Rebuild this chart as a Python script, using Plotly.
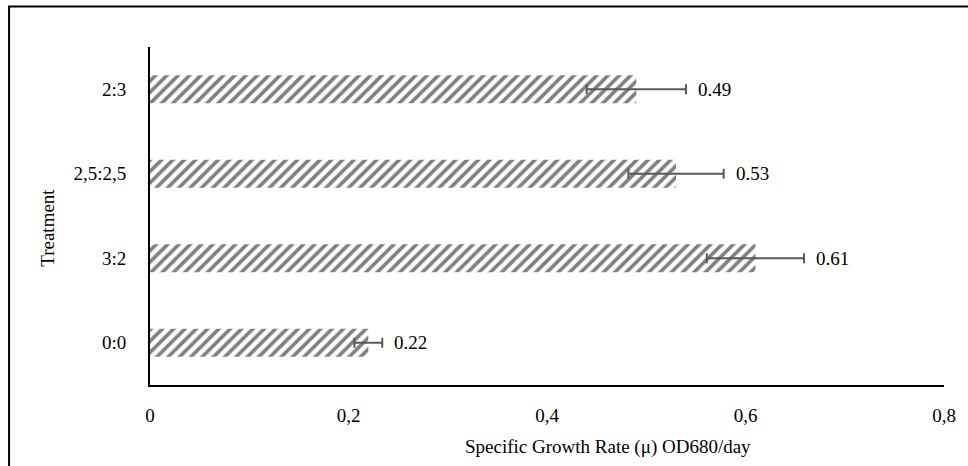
import plotly.graph_objects as go

treatments = ["0:0", "3:2", "2,5:2,5", "2:3"]
growth_rate = [0.22, 0.61, 0.53, 0.49]
error_sd = [0.014, 0.049, 0.048, 0.05]
value_labels = ["0.22", "0.61", "0.53", "0.49"]
x_ticks = [0, 0.2, 0.4, 0.6, 0.8]
x_tick_text = ["0", "0,2", "0,4", "0,6", "0,8"]

FONT = "Liberation Serif"
FS = 19

fig = go.Figure()
fig.add_trace(go.Bar(
    x=growth_rate, y=treatments, orientation="h",
    marker=dict(color="white", line=dict(width=0),
                pattern=dict(shape="/", fgcolor="black", bgcolor="white", size=8, solidity=0.45)),
    error_x=dict(type="data", array=error_sd, visible=True, color="#595959", thickness=2, width=5),
    showlegend=False, hoverinfo="skip",
))

for t, v, e, lab in zip(treatments, growth_rate, error_sd, value_labels):
    fig.add_annotation(x=v + e, y=t, text=lab, showarrow=False, xanchor="left", yanchor="middle",
                       xshift=10, font=dict(family=FONT, size=FS, color="black"))

fig.add_annotation(xref="paper", yref="paper", x=(611 - 150) / 800, y=(385 - 447) / 338,
                   xanchor="center", yanchor="middle",
                   text="Specific Growth Rate (μ) OD680/day", showarrow=False,
                   font=dict(family=FONT, size=FS, color="black"))
fig.add_annotation(xref="paper", yref="paper", x=(46 - 150) / 800, y=(385 - 228) / 338,
                   xanchor="center", yanchor="middle",
                   text="Treatment", showarrow=False, textangle=-90,
                   font=dict(family=FONT, size=FS, color="black"))

fig.add_shape(type="rect", xref="paper", yref="paper",
              x0=(8 - 150) / 800, x1=1.2, y0=-0.5, y1=(385 - 6.5) / 338,
              line=dict(color="black", width=2), fillcolor="rgba(0,0,0,0)", layer="below")

fig.update_layout(
    width=968, height=466,
    margin=dict(l=150, r=18, t=47, b=81),
    paper_bgcolor="white", plot_bgcolor="white",
    font=dict(family=FONT, size=FS, color="black"),
    bargap=0.67,
    xaxis=dict(range=[0, 0.8], tickvals=x_ticks, ticktext=x_tick_text, showgrid=False,
               zeroline=False, showline=True, linecolor="black", linewidth=2,
               ticks="", ticklabelstandoff=12, tickfont=dict(family=FONT, size=FS)),
    yaxis=dict(range=[-0.5, 3.5], showgrid=False, zeroline=False, showline=True,
               linecolor="black", linewidth=2, ticks="", ticklabelstandoff=18,
               tickfont=dict(family=FONT, size=FS)),
)

fig.write_html("out.html")
